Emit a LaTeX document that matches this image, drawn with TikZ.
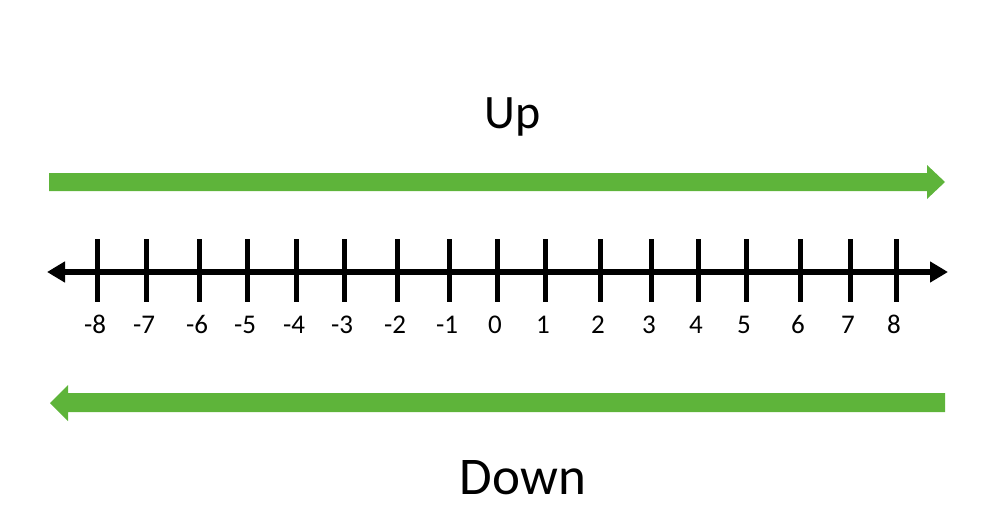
\documentclass[tikz,border=0pt]{standalone}
\usepackage{fontspec}
\setmainfont{Carlito}
\usetikzlibrary{arrows.meta}
\definecolor{arrgreen}{RGB}{94,180,58}
\begin{document}
\begin{tikzpicture}[x=1pt,y=-1pt,
  greenarrow/.style={draw=none,fill=arrgreen},
  axisline/.style={line width=6pt,{Triangle[length=18pt,width=20pt]}-{Triangle[length=18pt,width=20pt]}},
  tickmark/.style={line width=5pt},
  ticklabel/.style={font=\fontsize{27}{29}\selectfont,anchor=base},
  bigword/.style={anchor=base,inner sep=0pt}]
\useasboundingbox (0,0) rectangle (1004,527);
% top green arrow
\fill[greenarrow] (49,173) -- (927,173) -- (927,165) -- (945,182) -- (927,199) -- (927,191) -- (49,191) -- cycle;
% bottom green arrow
\fill[greenarrow] (945,393) -- (68,393) -- (68,385) -- (50,403) -- (68,421) -- (68,412) -- (945,412) -- cycle;
% number line
\coordinate (L) at (47,272);
\coordinate (R) at (948,272);
\draw[axisline] (L) -- (R);
\foreach \n/\x in {-8/97,-7/146,-6/199,-5/247,-4/296,-3/344,-2/397,-1/449,0/497,1/545,2/600,3/651,4/698,5/746,6/800,7/850,8/896}{
  \draw[tickmark] (\x,239) -- (\x,302);
  \node[ticklabel] (lab\n) at (\x-2,333) {\n};
}
\node[bigword,font=\fontsize{48}{52}\selectfont] (up) at (513,128) {Up};
\node[bigword,font=\fontsize{53}{58}\selectfont] (down) at (523,494) {Down};
\end{tikzpicture}
\end{document}
